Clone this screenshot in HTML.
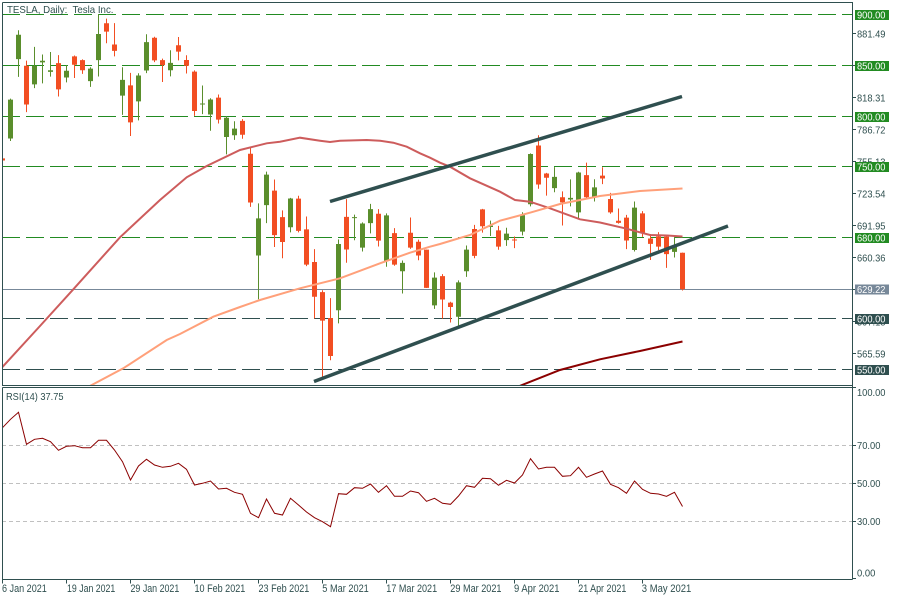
<!DOCTYPE html>
<html><head><meta charset="utf-8"><style>
html,body{margin:0;padding:0;background:#fff;}
svg{display:block;}
text{font-family:"Liberation Sans",sans-serif;fill:#2F4F4F;}
</style></head><body>
<svg width="900" height="600" viewBox="0 0 900 600" xmlns="http://www.w3.org/2000/svg">
<defs>
<clipPath id="cm"><rect x="3" y="3" width="849" height="382"/></clipPath>
<clipPath id="cr"><rect x="3" y="388" width="849" height="191"/></clipPath>
</defs>
<rect x="0" y="0" width="900" height="600" fill="#fff"/>

<g clip-path="url(#cm)">
<g fill="none" stroke-width="1" stroke-dasharray="18,6">
<line x1="2" y1="14.5" x2="852" y2="14.5" stroke="#228B22"/>
<line x1="2" y1="65.5" x2="852" y2="65.5" stroke="#228B22"/>
<line x1="2" y1="116.5" x2="852" y2="116.5" stroke="#228B22"/>
<line x1="2" y1="166.5" x2="852" y2="166.5" stroke="#228B22"/>
<line x1="2" y1="237.5" x2="852" y2="237.5" stroke="#228B22"/>
<line x1="2" y1="318.5" x2="852" y2="318.5" stroke="#2F4F4F"/>
<line x1="2" y1="369.5" x2="852" y2="369.5" stroke="#2F4F4F"/>
</g>
<line x1="2" y1="289.5" x2="852" y2="289.5" stroke="#778899" stroke-width="1"/>

<g transform="matrix(8 0 0 -1.01333 2.5 926.5)" fill="none">
<path stroke="#5A8E2C" stroke-width="1" vector-effect="non-scaling-stroke" d="M1 775.2V816.99M2 838.39V884.49M4 827.34V868M5 832V860.47M6 838.75V863M8 833V850M11 828.62V848M12 838.82V900.4M15 801V848M17 795.56V842M18 842.2V880.5M21 838.97V864.77M25 801.73V829.88M26 785.33V817.33M28 762.01V799.84M29 776.27V794.69M32 619V713.61M33 694.17V745M36 685.05V719M42 595.21V678.09M44 677.18V702.5M45 666.14V694.88M46 684.04V713.18M48 651.01V703.73M50 624.62V657.23M54 609.5V645.5M57 591.01V637.66M58 641.11V672M61 681.37V696.55M63 671.65V689.55M65 682.09V704.8M66 710.66V763M69 724.6V749.41M71 710.69V737.25M72 698V744.84M74 715.46V737.36M79 666.14V715.47M84 660.22V681"/>
<path stroke="#5A8E2C" stroke-width="5" vector-effect="non-scaling-stroke" d="M1 777.63V816.04M2 856V880.02M4 831V849.44M5 852.76V854.41M6 843.39V845M8 837.8V844.55M11 834.31V846.64M12 855V880.8M15 820V835.43M17 814.29V839.81M18 844.68V872.79M21 845V852.23M25 811.2V812.2M26 801.26V816.12M28 779.09V798.15M29 780.9V787.38M32 662.13V698.84M33 711.85V742.02M36 690.11V718.43M42 608.18V673.58M44 699V700M45 670V693.73M46 694.09V707.94M48 656.87V701.81M50 646.6V654.87M54 613V640.39M57 601.75V635.62M58 646.62V667.93M61 690.3V691.62M63 677.38V683.8M65 685.7V701.98M66 712.7V762.32M69 728.65V739.78M71 717.42V718.99M72 704.77V744.12M74 719.8V729.4M79 667.59V709.44M84 665.8V671"/>
<path stroke="#F24E22" stroke-width="1" vector-effect="non-scaling-stroke" d="M0 749.1V774M3 803.62V854.43M7 819.1V859.9M9 837.28V859.5M10 841.42V855.72M13 871.6V895.9M14 858.66V891.5M16 780.1V842.41M19 853.06V878.08M20 833.42V856.5M22 854.75V877.77M23 841.75V859.8M24 800.02V844.82M27 792.44V821M30 777.37V796.79M31 710.2V768.5M34 670.58V737.21M35 659.51V706.7M37 685V721.11M38 651.71V700.7M39 600V668.45M40 539.49V627.84M41 558.79V620.13M43 655.06V717.85M47 671V707.92M49 652V689.23M51 668.75V699.62M52 657.51V677.8M53 630.11V668.02M55 599.89V643.82M56 596.02V616.48M59 659.42V692.42M60 684.7V708.16M62 667.84V691.38M64 669.43V680.97M67 728.03V780.79M68 721.31V743.69M70 691.8V725.4M73 718.04V753.77M75 732.61V749.3M76 703.35V724M77 693.6V708.5M78 668.5V702.25M80 680.5V706M81 657.7V683.45M82 667.34V685.3M83 650V681.02M85 627.61V665.05"/>
<path stroke="#F24E22" stroke-width="5" vector-effect="non-scaling-stroke" d="M0 755.98V758M3 811.19V849.4M7 826.16V852M9 850.45V858.74M10 844.99V855M13 883.09V891.38M14 864.16V870.35M16 793.53V830M19 854.69V877.02M20 849.99V855M22 863.42V869.67M23 849.46V855.12M24 804.82V843.64M27 796.22V818M30 781.3V795M31 714.5V762.64M34 682.22V726.15M35 675.5V700M37 686.44V718.28M38 653.2V687.99M39 621.44V655.8M40 597.95V626.06M41 563V600.55M43 668.06V700.3M47 676.88V703.35M49 653.16V684.29M51 670V684.59M52 662.16V675.77M53 630.27V667.91M55 618.71V641.87M56 611.29V615.64M59 661.75V688.37M60 691.05V707.71M62 670.97V687M64 677V678M67 732.23V770.7M68 738.85V743.1M70 714.63V719.6M73 719.69V741.5M75 738.2V741M76 704.74V717.96M77 694.4V696.41M78 677V699.51M80 684.9V703.8M81 673.6V678.94M82 670.94V681.06M83 663.54V680.76M85 629.04V664.9"/>
</g>

<polyline fill="none" stroke="#CD5C5C" stroke-width="2" points="2,367.5 40,326 73.3,289.3 120,237.3 160,200 186.7,177.3 206.7,166 240,150 266.7,143.3 280,141.7 300,137.7 320,140.7 330,142 340,140.7 366.7,140 380,140.7 393.3,142.7 406.7,146.7 420,153.3 430,157.7 440,162.7 450,166.7 470,178.3 500,191.7 515,200 530,201.7 550,208.3 580,219.3 600,222.5 625,228.3 650,235 667,235.5 682.5,236.5"/>
<polyline fill="none" stroke="#FFA07A" stroke-width="2" points="88,387 123.3,368.3 166.7,340 180,334 213.3,316.7 240,307 260,300 300,288.3 340,278.3 380,263.3 410,252.7 430,246.7 440,244 470,235 500,220.7 530,212.7 560,204 600,196 640,191 682.5,188.5"/>
<polyline fill="none" stroke="#8B0000" stroke-width="2" points="515,388 522,385 560,370 600,359.3 640,351 682.5,341.5"/>

<line x1="330" y1="201.5" x2="682" y2="96.5" stroke="#2F4F4F" stroke-width="3.5"/>
<line x1="314" y1="381.5" x2="728" y2="226" stroke="#2F4F4F" stroke-width="3.5"/>
</g>

<g clip-path="url(#cr)">
<g stroke="#C0C0C0" stroke-width="1" stroke-dasharray="4,3">
<line x1="2" y1="445.5" x2="852" y2="445.5"/>
<line x1="2" y1="483.5" x2="852" y2="483.5"/>
<line x1="2" y1="521.5" x2="852" y2="521.5"/>
</g>
<polyline fill="none" stroke="#8B0000" stroke-width="1" points="2.5,427.7 10.5,419.3 18.5,412.3 26.5,444.3 34.5,439.3 42.5,438.3 50.5,441.7 58.5,450.3 66.5,446.3 74.5,445.7 82.5,447.7 90.5,447.7 98.5,440.3 106.5,440.3 114.5,450 122.5,461.7 130.5,480 138.5,466 146.5,459.3 154.5,465 162.5,467.3 170.5,466.3 178.5,463.3 186.5,469.3 194.5,485 202.5,483.3 210.5,481 218.5,489 226.5,488.3 234.5,492.3 242.5,494.3 250.5,513.3 258.5,517.7 266.5,499 274.5,513.3 282.5,515 290.5,498.3 298.5,505 306.5,512 314.5,517.7 322.5,521.7 330.5,526.7 338.5,493.7 346.5,494.3 354.5,487.7 362.5,488.3 370.5,484 378.5,492.3 386.5,485.7 394.5,496.3 402.5,496.3 410.5,491 418.5,492.7 426.5,501.3 434.5,498.3 442.5,503.3 450.5,504.3 458.5,496 466.5,485.7 474.5,487.3 482.5,478.3 490.5,478.7 498.5,485.3 506.5,480.3 514.5,483 522.5,475 530.5,458.7 538.5,469 546.5,467.3 554.5,467.3 562.5,476.3 570.5,475.7 578.5,467.3 586.5,477.3 594.5,474 602.5,471 610.5,484.3 618.5,487.7 626.5,493.3 634.5,481 642.5,489.3 650.5,493.3 658.5,494 666.5,496.3 674.5,492.3 682.5,506.5"/>
</g>

<g fill="none" stroke="#2F4F4F" stroke-width="1">
<path d="M2.5 2.5H852.5V579.5M2.5 2.5V385.5H852.5M2.5 387.5H856M2.5 387.5V579.5H852.5"/>
<path d="M852 33.5h4M852 65.5h4M852 97.5h4M852 129.5h4M852 161.5h4M852 193.5h4M852 225.5h4M852 257.5h4M852 289.5h4M852 321.5h4M852 353.5h4M852 445.5h4M852 483.5h4M852 521.5h4M852 578.5h4"/>
<path d="M2.5 579v4.5M66.5 579v4.5M130.5 579v4.5M194.5 579v4.5M258.5 579v4.5M322.5 579v4.5M386.5 579v4.5M450.5 579v4.5M514.5 579v4.5M578.5 579v4.5M642.5 579v4.5"/>
</g>

<g font-size="10.5">
<text x="857" y="37.3" textLength="28.5" lengthAdjust="spacingAndGlyphs">881.49</text>
<text x="857" y="69.3" textLength="28.5" lengthAdjust="spacingAndGlyphs">849.90</text>
<text x="857" y="101.3" textLength="28.5" lengthAdjust="spacingAndGlyphs">818.31</text>
<text x="857" y="133.3" textLength="28.5" lengthAdjust="spacingAndGlyphs">786.72</text>
<text x="857" y="165.3" textLength="28.5" lengthAdjust="spacingAndGlyphs">755.13</text>
<text x="857" y="197.3" textLength="28.5" lengthAdjust="spacingAndGlyphs">723.54</text>
<text x="857" y="229.3" textLength="28.5" lengthAdjust="spacingAndGlyphs">691.95</text>
<text x="857" y="261.3" textLength="28.5" lengthAdjust="spacingAndGlyphs">660.36</text>
<text x="857" y="325.4" textLength="28.5" lengthAdjust="spacingAndGlyphs">597.18</text>
<text x="857" y="357.4" textLength="28.5" lengthAdjust="spacingAndGlyphs">565.59</text>
<text x="857" y="396" textLength="28.5" lengthAdjust="spacingAndGlyphs">100.00</text>
<text x="857" y="449" textLength="23.4" lengthAdjust="spacingAndGlyphs">70.00</text>
<text x="857" y="487" textLength="23.4" lengthAdjust="spacingAndGlyphs">50.00</text>
<text x="857" y="525" textLength="23.4" lengthAdjust="spacingAndGlyphs">30.00</text>
<text x="857" y="576.7" textLength="18.3" lengthAdjust="spacingAndGlyphs">0.00</text>
</g>

<rect x="855" y="10" width="34" height="10" fill="#228B22"/>
<rect x="855" y="61" width="34" height="10" fill="#228B22"/>
<rect x="855" y="112" width="34" height="10" fill="#228B22"/>
<rect x="855" y="162" width="34" height="10" fill="#228B22"/>
<rect x="855" y="233" width="34" height="10" fill="#228B22"/>
<rect x="855" y="284.5" width="34" height="10" fill="#778899"/>
<rect x="855" y="314" width="34" height="10" fill="#2F4F4F"/>
<rect x="855" y="365" width="34" height="10" fill="#2F4F4F"/>
<g font-size="10.5" style="fill:#fff">
<text x="857" y="18.5" textLength="28.5" lengthAdjust="spacingAndGlyphs" style="fill:#fff">900.00</text>
<text x="857" y="69.5" textLength="28.5" lengthAdjust="spacingAndGlyphs" style="fill:#fff">850.00</text>
<text x="857" y="120.5" textLength="28.5" lengthAdjust="spacingAndGlyphs" style="fill:#fff">800.00</text>
<text x="857" y="170.5" textLength="28.5" lengthAdjust="spacingAndGlyphs" style="fill:#fff">750.00</text>
<text x="857" y="241.5" textLength="28.5" lengthAdjust="spacingAndGlyphs" style="fill:#fff">680.00</text>
<text x="857" y="293" textLength="28.5" lengthAdjust="spacingAndGlyphs" style="fill:#fff">629.22</text>
<text x="857" y="322.5" textLength="28.5" lengthAdjust="spacingAndGlyphs" style="fill:#fff">600.00</text>
<text x="857" y="373.5" textLength="28.5" lengthAdjust="spacingAndGlyphs" style="fill:#fff">550.00</text>
</g>

<text x="7" y="12.8" font-size="10.5" textLength="106.5" lengthAdjust="spacingAndGlyphs">TESLA, Daily:&#160; Tesla Inc.</text>
<text x="6" y="400" font-size="10.5" textLength="57.5" lengthAdjust="spacingAndGlyphs">RSI(14) 37.75</text>

<g font-size="11">
<text x="2" y="592" textLength="44.8" lengthAdjust="spacingAndGlyphs">6 Jan 2021</text>
<text x="67" y="592" textLength="48.3" lengthAdjust="spacingAndGlyphs">19 Jan 2021</text>
<text x="130.5" y="592" textLength="48.8" lengthAdjust="spacingAndGlyphs">29 Jan 2021</text>
<text x="194.5" y="592" textLength="50.8" lengthAdjust="spacingAndGlyphs">10 Feb 2021</text>
<text x="258.5" y="592" textLength="50.8" lengthAdjust="spacingAndGlyphs">23 Feb 2021</text>
<text x="322.3" y="592" textLength="46.5" lengthAdjust="spacingAndGlyphs">5 Mar 2021</text>
<text x="386.3" y="592" textLength="50.8" lengthAdjust="spacingAndGlyphs">17 Mar 2021</text>
<text x="450.3" y="592" textLength="51.2" lengthAdjust="spacingAndGlyphs">29 Mar 2021</text>
<text x="514" y="592" textLength="45.5" lengthAdjust="spacingAndGlyphs">9 Apr 2021</text>
<text x="578.3" y="592" textLength="48" lengthAdjust="spacingAndGlyphs">21 Apr 2021</text>
<text x="641.8" y="592" textLength="49.5" lengthAdjust="spacingAndGlyphs">3 May 2021</text>
</g>
</svg>
</body></html>
